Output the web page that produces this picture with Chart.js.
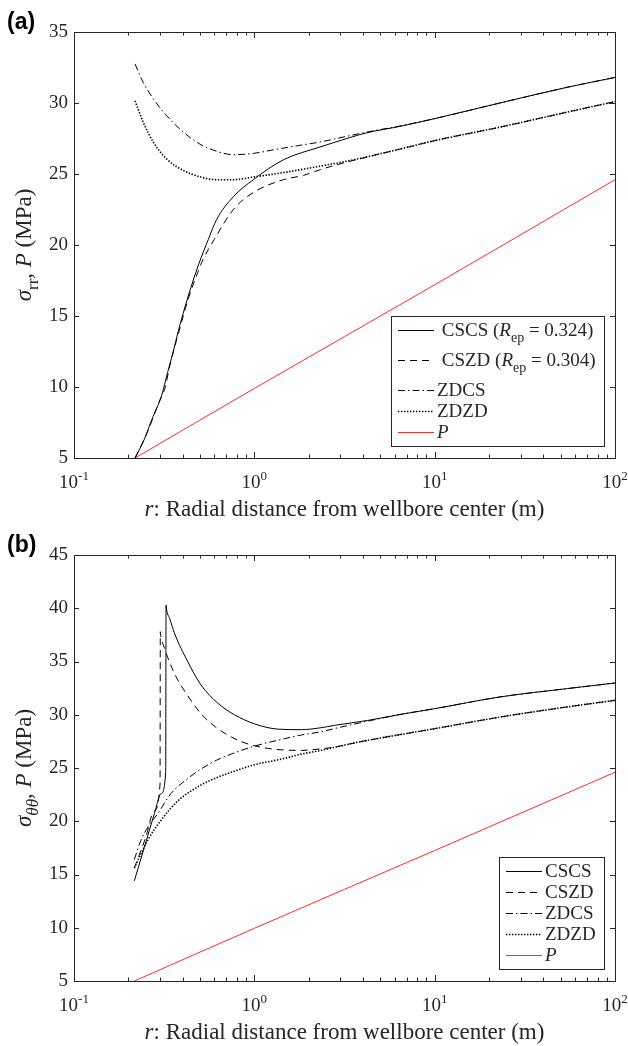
<!DOCTYPE html>
<html>
<head>
<title>Stress around the wellbore</title>
<script src="https://cdn.jsdelivr.net/npm/chart.js"></script>
<style>
  body { margin: 0; background: #fff; }
  canvas { display: block; }
</style>
</head>
<body>
<canvas id="chartA" width="628" height="523"></canvas>
<canvas id="chartB" width="628" height="523"></canvas>
<script>
// ---- panel (a): radial stress sigma_rr ----
const rCscsA = [0.218, 0.245, 0.27, 0.306, 0.33, 0.355, 0.378, 0.43, 0.49, 0.556, 0.618, 0.765, 0.987, 1.45, 2.31, 2.74, 4.2, 6.4, 10, 23, 54, 100];
const sCscsA = [5.0, 6.3, 7.7, 9.4, 11.0, 12.5, 13.9, 16.4, 18.6, 20.4, 21.8, 23.4, 24.6, 26.0, 26.9, 27.2, 27.9, 28.35, 28.9, 30.0, 31.1, 31.8];
const rCszdA = [0.218, 0.245, 0.27, 0.295, 0.319, 0.34, 0.38, 0.43, 0.49, 0.52, 0.6, 0.765, 0.987, 1.45, 1.87, 2.31, 3.4, 6.4, 10, 23, 54, 100];
const sCszdA = [5.0, 6.3, 7.6, 8.9, 9.9, 11.5, 13.8, 16.2, 18.2, 19.0, 20.4, 22.5, 23.7, 24.6, 24.9, 25.3, 25.9, 26.75, 27.35, 28.3, 29.35, 30.1];
const rZdcsA = [0.218, 0.242, 0.275, 0.327, 0.404, 0.5, 0.618, 0.766, 0.987, 1.27, 1.79, 2.31, 2.74, 4.2, 6.4, 10, 23, 54, 100];
const sZdcsA = [32.75, 31.45, 30.3, 29.1, 27.95, 27.1, 26.6, 26.36, 26.45, 26.7, 27.02, 27.25, 27.45, 27.95, 28.38, 28.9, 30.0, 31.1, 31.8];
const rZdzdA = [0.218, 0.242, 0.275, 0.327, 0.404, 0.5, 0.618, 0.765, 1.0, 1.45, 2.31, 3.4, 6.4, 10, 23, 54, 100];
const sZdzdA = [30.15, 28.65, 27.25, 26.05, 25.25, 24.8, 24.6, 24.6, 24.8, 25.1, 25.55, 25.95, 26.75, 27.35, 28.3, 29.35, 30.1];
const rPA = [0.218, 1, 10, 100];
const pA = [5.0, 9.9, 17.2, 24.6];

// ---- panel (b): hoop stress sigma_thetatheta ----
const rCscsB = [0.216, 0.245, 0.279, 0.304, 0.3225, 0.324, 0.3245, 0.34, 0.36, 0.427, 0.506, 0.626, 0.775, 1.0, 1.35, 1.82, 2.34, 2.78, 4.26, 6.5, 10, 23, 54, 100];
const sCscsB = [14.4, 17.5, 20.7, 22.6, 24.6, 40.3, 40.15, 39.0, 37.7, 35.0, 32.8, 31.1, 30.0, 29.15, 28.65, 28.6, 28.78, 29.0, 29.47, 30.04, 30.57, 31.67, 32.45, 32.98];
const rCszdB = [0.216, 0.25, 0.279, 0.3, 0.301, 0.3015, 0.317, 0.36, 0.427, 0.506, 0.626, 0.84, 1.18, 1.82, 2.34, 2.78, 3.4, 4.26, 10, 23, 54, 100];
const sCszdB = [15.6, 18.5, 21.0, 23.5, 37.8, 37.65, 36.3, 33.9, 31.8, 30.1, 28.7, 27.5, 26.85, 26.65, 26.8, 26.95, 27.27, 27.6, 28.69, 29.78, 30.73, 31.35];
const rZdcsB = [0.216, 0.235, 0.26, 0.291, 0.345, 0.434, 0.506, 0.62, 0.8, 1.0, 1.47, 1.82, 2.34, 2.78, 4.26, 6.5, 10, 23, 54, 100];
const sZdcsB = [16.4, 18.2, 19.6, 20.7, 22.6, 24.1, 24.9, 25.75, 26.5, 27.05, 27.75, 28.1, 28.4, 28.7, 29.4, 30.04, 30.57, 31.67, 32.45, 32.98];
const rZdzdB = [0.216, 0.256, 0.304, 0.376, 0.506, 0.6, 0.84, 1.0, 1.47, 1.82, 2.34, 3.4, 4.26, 10, 23, 54, 100];
const sZdzdB = [15.6, 18.2, 20.1, 21.9, 23.4, 24.0, 24.9, 25.3, 25.9, 26.3, 26.65, 27.27, 27.6, 28.69, 29.78, 30.73, 31.35];
const rPB = [0.216, 1, 10, 100];
const pB = [5.0, 9.95, 17.25, 24.6];

const decades = [0.1, 1, 10, 100];
const decadeExp = ['-1', '0', '1', '2'];

const serif = '"Liberation Serif", "Times New Roman", serif';
const ink = '#262626';
const tickSize = 19;
const titleSize = 23;
const legendSize = 19;

function pts(rs, vs) {
    return rs.map((r, i) => ({ x: r, y: vs[i] }));
}

function series(label, rs, vs, color, dash, width) {
    return {
        label: label,
        data: pts(rs, vs),
        borderColor: color,
        borderWidth: width,
        borderDash: dash,
        pointRadius: 0,
        fill: false,
        cubicInterpolationMode: 'monotone'
    };
}

// draws a list of text runs: {t, i (italic), sub}
function runFont(s, size) {
    const fs = s.sub ? Math.round(size * 0.72) : size;
    return (s.i ? 'italic ' : '') + fs + 'px ' + serif;
}

function runsWidth(ctx, runs, size) {
    return runs.reduce((w, s) => {
        ctx.font = runFont(s, size);
        return w + ctx.measureText(s.t).width;
    }, 0);
}

function drawRuns(ctx, runs, x, y, size, align) {
    const total = runsWidth(ctx, runs, size);
    let cx = align === 'center' ? x - total / 2 : x;
    ctx.textAlign = 'left';
    ctx.textBaseline = 'alphabetic';
    runs.forEach(s => {
        ctx.font = runFont(s, size);
        ctx.fillText(s.t, cx, y + (s.sub ? size * 0.32 : 0));
        cx += ctx.measureText(s.t).width;
    });
    return total;
}

function makeDecor(cfg) {
    return {
        id: 'decor',
        afterDraw(chart) {
            const ctx = chart.ctx;
            const a = chart.chartArea;
            const xs = chart.scales.x;
            const ys = chart.scales.y;
            ctx.save();
            ctx.strokeStyle = ink;
            ctx.fillStyle = ink;
            ctx.lineWidth = 1;
            ctx.setLineDash([]);

            // box
            ctx.strokeRect(Math.round(a.left) + 0.5, Math.round(a.top) + 0.5,
                Math.round(a.right - a.left), Math.round(a.bottom - a.top));

            // inward ticks on all four sides
            ctx.beginPath();
            decades.forEach(d => {
                for (let m = 1; m <= 9; m++) {
                    const v = d * m;
                    if (v > 100) break;
                    const px = Math.round(xs.getPixelForValue(v)) + 0.5;
                    const len = m === 1 ? 6 : 3.5;
                    ctx.moveTo(px, a.bottom); ctx.lineTo(px, a.bottom - len);
                    ctx.moveTo(px, a.top); ctx.lineTo(px, a.top + len);
                }
            });
            ys.ticks.forEach(t => {
                const py = Math.round(ys.getPixelForValue(t.value)) + 0.5;
                ctx.moveTo(a.left, py); ctx.lineTo(a.left + 5, py);
                ctx.moveTo(a.right, py); ctx.lineTo(a.right - 5, py);
            });
            ctx.stroke();

            // x tick labels 10^n
            const supSize = Math.round(tickSize * 0.7);
            decades.forEach((d, k) => {
                const px = xs.getPixelForValue(d);
                ctx.font = tickSize + 'px ' + serif;
                const wb = ctx.measureText('10').width;
                ctx.font = supSize + 'px ' + serif;
                const we = ctx.measureText(decadeExp[k]).width;
                const x0 = px - (wb + we) / 2;
                const by = a.bottom + 30;
                ctx.textAlign = 'left';
                ctx.font = tickSize + 'px ' + serif;
                ctx.fillText('10', x0, by);
                ctx.font = supSize + 'px ' + serif;
                ctx.fillText(decadeExp[k], x0 + wb, by - 8);
            });

            // x title
            drawRuns(ctx, [{ t: 'r', i: 1 }, { t: ': Radial distance from wellbore center (m)' }],
                (a.left + a.right) / 2, a.bottom + 58, titleSize, 'center');

            // y title (rotated)
            ctx.save();
            ctx.translate(31, (a.top + a.bottom) / 2);
            ctx.rotate(-Math.PI / 2);
            drawRuns(ctx, cfg.yTitle, 0, 0, titleSize, 'center');
            ctx.restore();

            // panel letter
            ctx.font = 'bold 23px "Liberation Sans", Arial, sans-serif';
            ctx.fillStyle = '#000';
            ctx.textAlign = 'left';
            ctx.fillText(cfg.letter, 7, 29);

            // legend box, south-east corner
            const L = cfg.legend;
            const gaps = L.map(it => it.some(s => s.sub) ? 30 : 21);
            let h = 28;
            for (let i = 0; i < L.length - 1; i++) h += gaps[i];
            const wMax = Math.max(...L.map(runs => runsWidth(ctx, runs, legendSize)));
            const bw = Math.round(47 + wMax + 7);
            const right = Math.round(a.right) - 11;
            const bottom = Math.round(a.bottom) - 12;
            const left = right - bw;
            const top = bottom - h;
            ctx.fillStyle = '#fff';
            ctx.fillRect(left, top, bw, h);
            ctx.strokeStyle = ink;
            ctx.lineWidth = 1;
            ctx.strokeRect(left + 0.5, top + 0.5, bw, h);
            let cy = top + 14;
            chart.data.datasets.forEach((ds, i) => {
                ctx.beginPath();
                ctx.strokeStyle = ds.borderColor;
                ctx.lineWidth = ds.borderWidth;
                ctx.setLineDash(ds.borderDash || []);
                ctx.moveTo(left + 7, Math.round(cy) + 0.5);
                ctx.lineTo(left + 43, Math.round(cy) + 0.5);
                ctx.stroke();
                ctx.setLineDash([]);
                ctx.fillStyle = ink;
                drawRuns(ctx, L[i], left + 46, cy + 6, legendSize, 'left');
                cy += gaps[i];
            });
            ctx.restore();
        }
    };
}

function buildChart(id, sets, yMax, cfg) {
    return new Chart(document.getElementById(id), {
        type: 'line',
        data: { datasets: sets },
        options: {
            responsive: false,
            animation: false,
            devicePixelRatio: 1,
            layout: { padding: { top: 32, right: 13, bottom: 0, left: 0 } },
            plugins: { legend: { display: false }, tooltip: { enabled: false } },
            scales: {
                x: {
                    type: 'logarithmic',
                    min: 0.1,
                    max: 100,
                    ticks: { display: false },
                    grid: { display: false },
                    border: { display: false },
                    afterFit(s) { s.height = 65; }
                },
                y: {
                    type: 'linear',
                    min: 5,
                    max: yMax,
                    ticks: { stepSize: 5, color: ink, padding: 6, font: { family: serif, size: tickSize } },
                    grid: { display: false, drawTicks: false },
                    border: { display: false },
                    afterFit(s) { s.width = 74; }
                }
            }
        },
        plugins: [makeDecor(cfg)]
    });
}

const solid = [];
const dashed = [7, 5];
const dashDot = [7, 3, 1.5, 3];
const dotted = [1.4, 1.6];
const black = '#000000';
const red = '#ff2a2a';

buildChart('chartA', [
    series('CSCS (Rep = 0.324)', rCscsA, sCscsA, black, solid, 1),
    series('CSZD (Rep = 0.304)', rCszdA, sCszdA, black, dashed, 1),
    series('ZDCS', rZdcsA, sZdcsA, black, dashDot, 1),
    series('ZDZD', rZdzdA, sZdzdA, black, dotted, 1.6),
    series('P', rPA, pA, red, solid, 1)
], 35, {
    letter: '(a)',
    yTitle: [{ t: 'σ', i: 1 }, { t: 'rr', sub: 1 }, { t: ', ' }, { t: 'P', i: 1 }, { t: ' (MPa)' }],
    legend: [
        [{ t: ' CSCS (' }, { t: 'R', i: 1 }, { t: 'ep', sub: 1 }, { t: ' = 0.324)' }],
        [{ t: ' CSZD (' }, { t: 'R', i: 1 }, { t: 'ep', sub: 1 }, { t: ' = 0.304)' }],
        [{ t: 'ZDCS' }],
        [{ t: 'ZDZD' }],
        [{ t: 'P', i: 1 }]
    ]
});

buildChart('chartB', [
    series('CSCS', rCscsB, sCscsB, black, solid, 1),
    series('CSZD', rCszdB, sCszdB, black, dashed, 1),
    series('ZDCS', rZdcsB, sZdcsB, black, dashDot, 1),
    series('ZDZD', rZdzdB, sZdzdB, black, dotted, 1.6),
    series('P', rPB, pB, red, solid, 1)
], 45, {
    letter: '(b)',
    yTitle: [{ t: 'σ', i: 1 }, { t: 'θθ', sub: 1, i: 1 }, { t: ', ' }, { t: 'P', i: 1 }, { t: ' (MPa)' }],
    legend: [
        [{ t: 'CSCS' }],
        [{ t: 'CSZD' }],
        [{ t: 'ZDCS' }],
        [{ t: 'ZDZD' }],
        [{ t: 'P', i: 1 }]
    ]
});
</script>
</body>
</html>
